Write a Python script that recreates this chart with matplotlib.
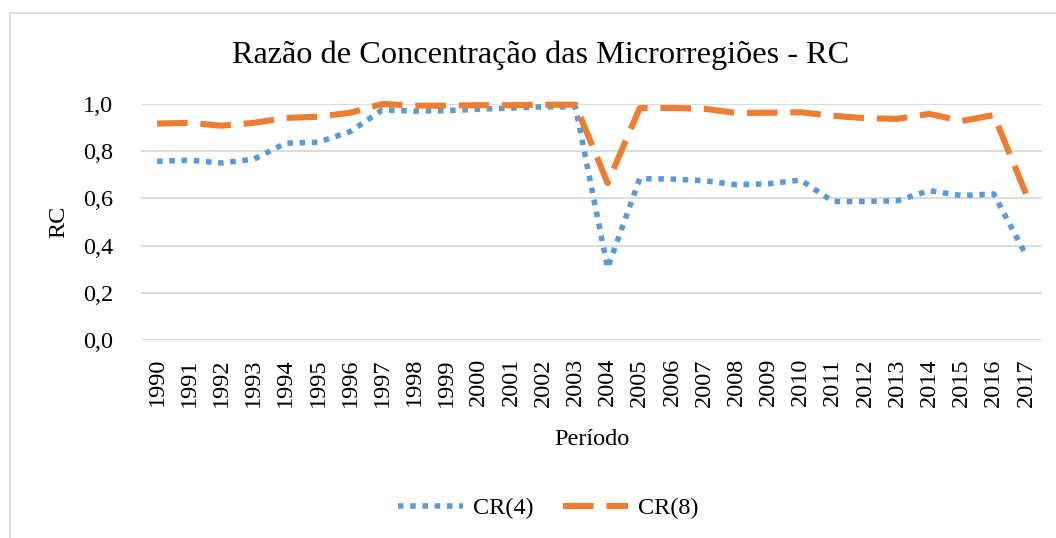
import matplotlib
matplotlib.use("Agg")
import matplotlib.pyplot as plt
from matplotlib.patches import Rectangle
from matplotlib.ticker import FuncFormatter

# data
anos = [str(a) for a in range(1990, 2018)]
cr4 = [0.757, 0.762, 0.750, 0.766, 0.834, 0.838, 0.883, 0.975, 0.970, 0.972,
       0.978, 0.983, 0.988, 0.988, 0.305, 0.684, 0.682, 0.675, 0.658, 0.662,
       0.678, 0.587, 0.587, 0.590, 0.633, 0.612, 0.619, 0.360]
cr8 = [0.917, 0.920, 0.908, 0.920, 0.941, 0.946, 0.963, 1.000, 0.993, 0.993,
       0.995, 0.995, 0.997, 0.997, 0.665, 0.983, 0.983, 0.980, 0.962, 0.963,
       0.965, 0.950, 0.940, 0.937, 0.958, 0.928, 0.953, 0.620]
yticks = [0.0, 0.2, 0.4, 0.6, 0.8, 1.0]

plt.rcParams['font.family'] = ['Liberation Serif', 'DejaVu Serif']

fig = plt.figure(figsize=(10.56, 5.38), dpi=100)
W, H = 1056, 538

# light chart border (Excel chart area)
fig.patches.append(Rectangle((10 / W, -0.1), 1.2, 1.1 - 13 / H,
                             transform=fig.transFigure, fill=False,
                             edgecolor='#D9D9D9', linewidth=1.2))

ax = fig.add_axes([141 / W, 1 - 340 / H, (1042 - 141) / W, (340 - 104) / H])
x = list(range(len(anos)))

ax.plot(x, cr4, color='#5B9BD5', linewidth=4.0, linestyle=(0, (1.0, 1.2)),
        label='CR(4)', clip_on=False, zorder=3)
ax.plot(x, cr8, color='#ED7D31', linewidth=4.4, linestyle=(0, (5.0, 2.1)),
        label='CR(8)', clip_on=False, zorder=3)

ax.set_xlim(-0.5, len(anos) - 0.5)
ax.set_ylim(0, 1.0)
ax.set_yticks(yticks)
ax.yaxis.set_major_formatter(FuncFormatter(lambda v, p: f'{v:.1f}'.replace('.', ',')))
ax.set_xticks(x)
ax.set_xticklabels(anos, rotation=90)
ax.grid(axis='y', color='#D9D9D9', linewidth=1.3)
ax.set_axisbelow(True)
for s in ax.spines.values():
    s.set_visible(False)
ax.tick_params(axis='both', length=0, labelsize=17.5)
ax.tick_params(axis='y', pad=20)
ax.tick_params(axis='x', pad=13)

ax.set_xlabel('Período', fontsize=17.5, labelpad=16)
ax.set_ylabel('RC', fontsize=17.5, labelpad=10)

fig.text(541 / W, 1 - 55 / H, 'Razão de Concentração das Microrregiões - RC',
         ha='center', va='center', fontsize=23.2)

fig.legend(loc='center', bbox_to_anchor=(548 / W, 1 - 508 / H), ncol=2,
           frameon=False, fontsize=17.5, handlelength=2.7, handletextpad=0.4,
           columnspacing=1.2)

fig.savefig('out.png', dpi=100)
